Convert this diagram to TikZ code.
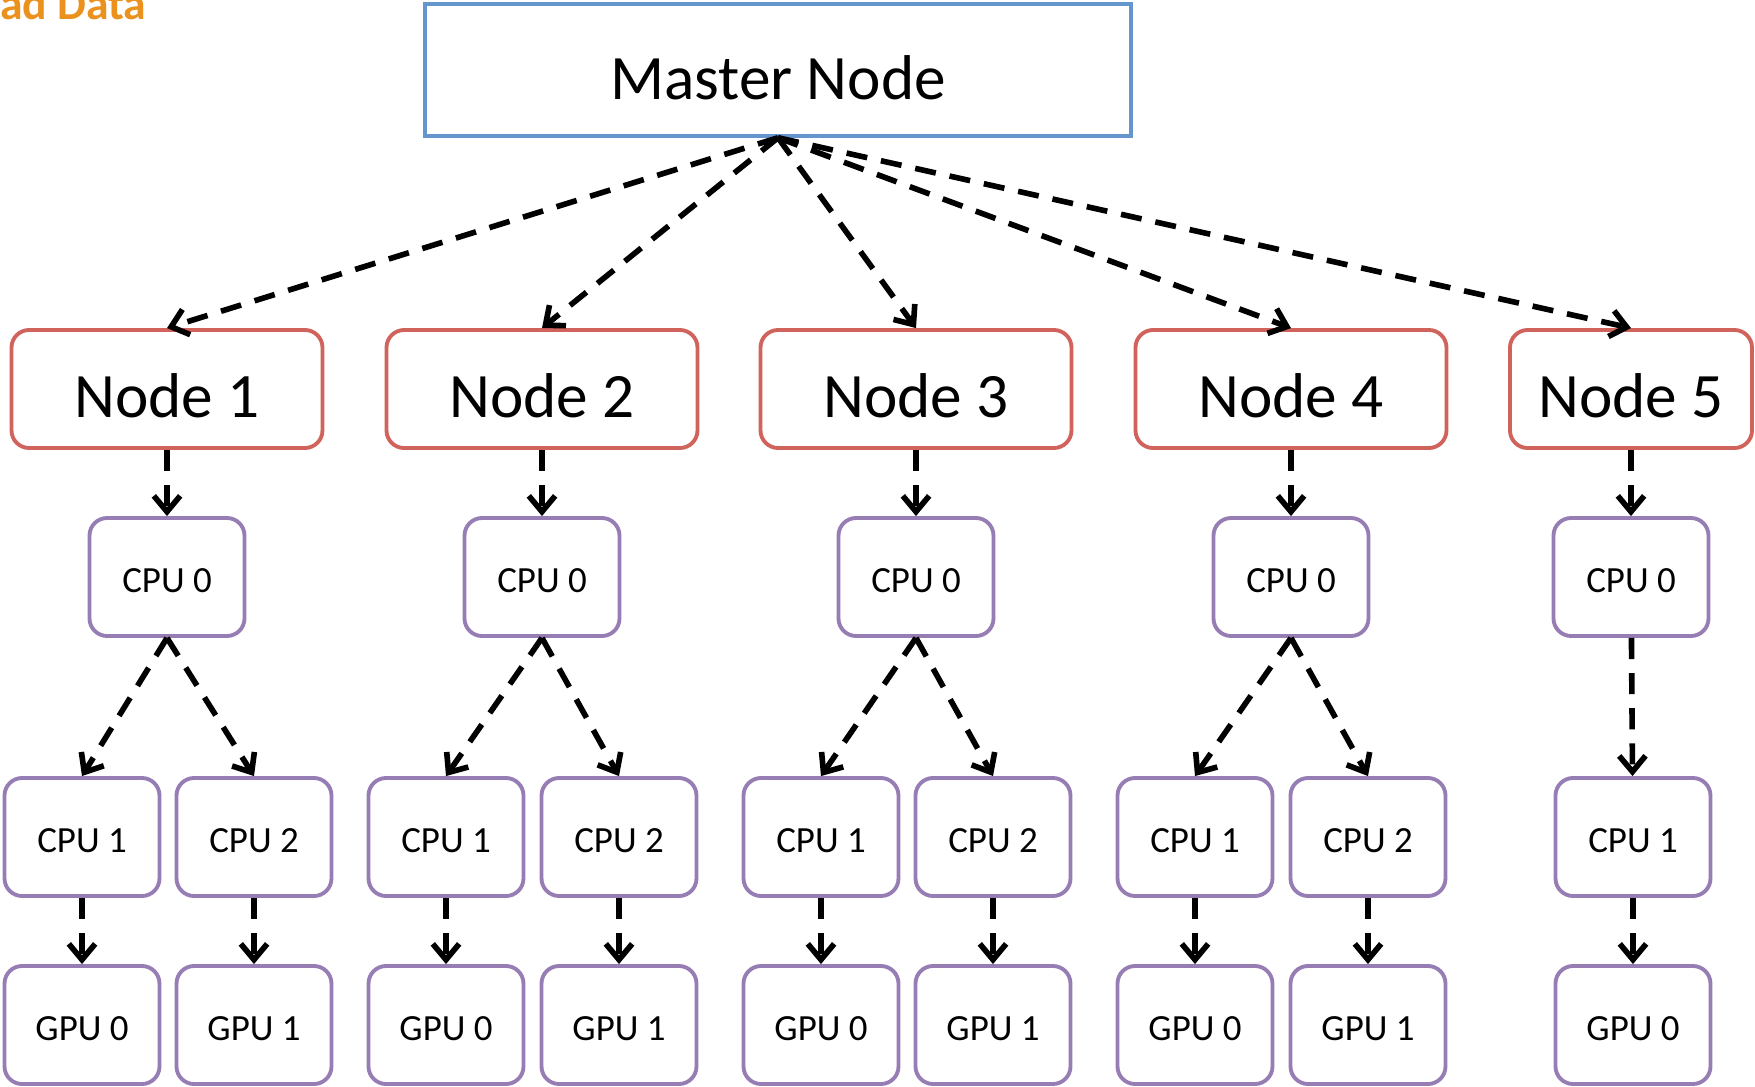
\documentclass[tikz,border=0pt]{standalone}
\usepackage{fontspec}
\setmainfont{Carlito}
\usetikzlibrary{arrows.meta}

\definecolor{masterblue}{RGB}{100,150,205}
\definecolor{nodered}{RGB}{208,100,92}
\definecolor{cpupurple}{RGB}{150,125,180}
\definecolor{titleorange}{RGB}{235,145,30}

\begin{document}
\begin{tikzpicture}[x=0.1mm, y=-0.1mm,
  >={Straight Barb[length=4.5pt,width=7.5pt]},
  master/.style={draw=masterblue, line width=1pt, minimum width=70.6mm, minimum height=13.2mm,
                 text height=16.6pt, text depth=0pt, font=\fontsize{18}{20}\selectfont},
  host/.style={draw=nodered, line width=1.1pt, rounded corners=5pt, minimum width=31.1mm,
               minimum height=11.8mm, text height=16pt, text depth=0pt,
               font=\fontsize{18}{20}\selectfont},
  unit/.style={draw=cpupurple, line width=1.1pt, rounded corners=5pt, minimum width=15.5mm,
               minimum height=11.8mm, text height=8.8pt, text depth=0pt,
               font=\fontsize{10.5}{12}\selectfont},
  arr/.style={->, line width=1.6pt, dash pattern=on 6pt off 4pt}]
  \useasboundingbox (0,0) rectangle (1755,1087);
  \node[anchor=base east, inner sep=0pt, text=titleorange,
        font=\bfseries\fontsize{13}{15}\selectfont] (title) at (147,19) {ad Data};
  \node[master] (master) at (778,70) {Master Node};
  % four nodes with two CPUs and two GPUs each
  \foreach \i/\x/\a/\b in {1/167/82/254, 2/542/446/619, 3/916/821/993, 4/1291/1195/1368} {
    \node[host] (n\i) at (\x,389) {Node \i};
    \node[unit] (n\i-c0) at (\x,577) {CPU 0};
    \node[unit] (n\i-c1) at (\a,837) {CPU 1};
    \node[unit] (n\i-c2) at (\b,837) {CPU 2};
    \node[unit] (n\i-g0) at (\a,1025) {GPU 0};
    \node[unit] (n\i-g1) at (\b,1025) {GPU 1};
    \draw[arr] (n\i)--(n\i-c0);
    \draw[arr] (n\i-c0.south)--(n\i-c1.north);
    \draw[arr] (n\i-c0.south)--(n\i-c2.north);
    \draw[arr] (n\i-c1)--(n\i-g0);
    \draw[arr] (n\i-c2)--(n\i-g1);
  }
  % last node, a single chain
  \node[host, minimum width=24.2mm] (n5) at (1631,389) {Node 5};
  \node[unit] (n5-c0) at (1631,577) {CPU 0};
  \node[unit] (n5-c1) at (1633,837) {CPU 1};
  \node[unit] (n5-g0) at (1633,1025) {GPU 0};
  \draw[arr] (n5)--(n5-c0);
  \draw[arr] (n5-c0)--(n5-c1);
  \draw[arr] (n5-c1)--(n5-g0);
  \foreach \i in {1,...,5} {\draw[arr] (master.south)--(n\i.north);}
\end{tikzpicture}
\end{document}
